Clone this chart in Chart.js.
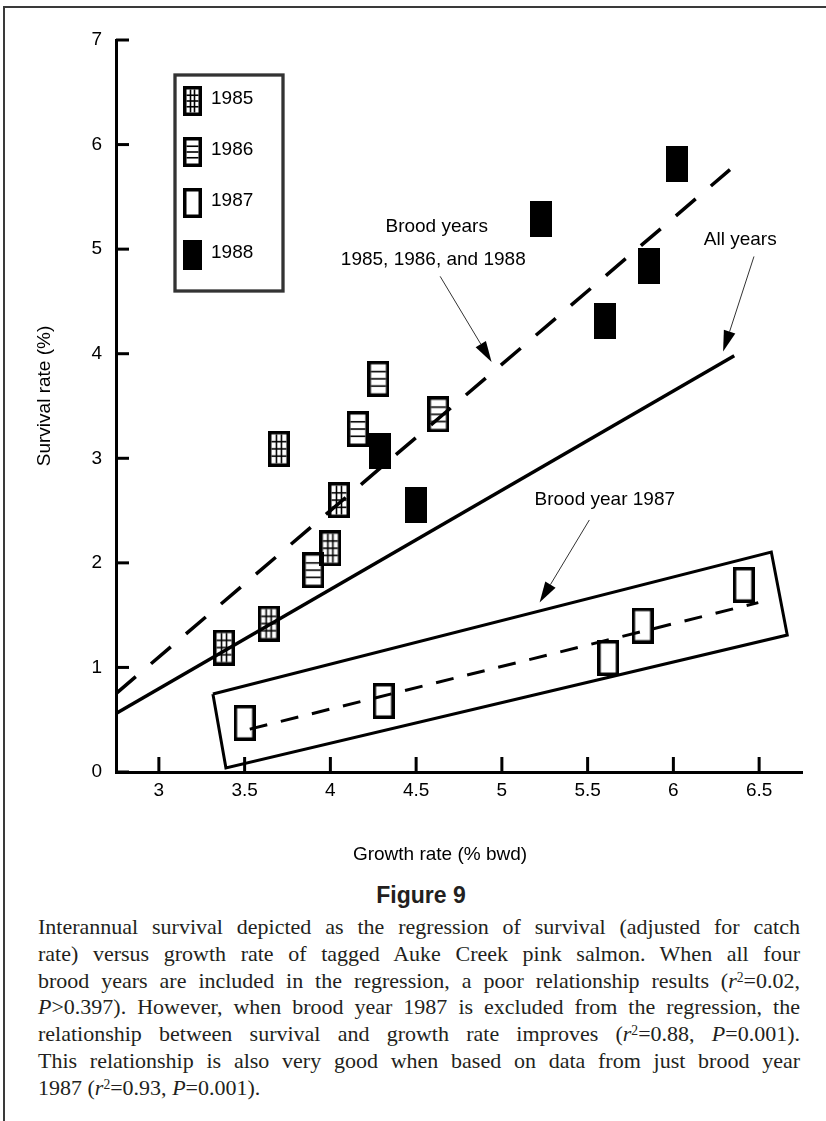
<!DOCTYPE html>
<html>
<head>
<meta charset="utf-8">
<script src="https://cdn.jsdelivr.net/npm/chart.js@4.4.1/dist/chart.umd.min.js"></script>
<style>
  html, body { margin: 0; padding: 0; background: #fff; }
  body { width: 826px; height: 1121px; position: relative; overflow: hidden; }
  #frameTop { position: absolute; left: 3px; top: 6px; width: 823px; height: 2px; background: #3a3a3a; }
  #frameLeft { position: absolute; left: 3px; top: 6px; width: 2px; height: 1115px; background: #3a3a3a; }
  #c { position: absolute; left: 0; top: 0; }
  #fig { position: absolute; left: 321px; width: 200px; top: 881px; text-align: center;
         font: bold 23px "Liberation Sans", Arial, sans-serif; line-height: 28px; color: #231f20; }
  #cap { position: absolute; left: 38px; top: 914px; width: 762px; color: #231f20;
         font: 22px "Liberation Serif", "Times New Roman", serif; line-height: 26.8px; }
  #cap div { text-align: justify; text-align-last: justify; }
  #cap div.last { text-align-last: left; }
  sup { font-size: 0.62em; line-height: 0; vertical-align: 0.45em; }
</style>
</head>
<body>
<div id="frameTop"></div>
<div id="frameLeft"></div>
<canvas id="c" width="826" height="880"></canvas>
<div id="fig">Figure 9</div>
<div id="cap">
  <div>Interannual survival depicted as the regression of survival (adjusted for catch</div>
  <div>rate) versus growth rate of tagged Auke Creek pink salmon. When all four</div>
  <div>brood years are included in the regression, a poor relationship results (<i>r</i><sup>2</sup>=0.02,</div>
  <div><i>P</i>&gt;0.397). However, when brood year 1987 is excluded from the regression, the</div>
  <div>relationship between survival and growth rate improves (<i>r</i><sup>2</sup>=0.88, <i>P</i>=0.001).</div>
  <div>This relationship is also very good when based on data from just brood year</div>
  <div class="last">1987 (<i>r</i><sup>2</sup>=0.93, <i>P</i>=0.001).</div>
</div>
<script>
// brood years
var years = ["1985", "1986", "1987", "1988"];

// growth rate (% bwd) / survival rate (%)
var growth1985 = [3.38, 3.64, 3.70, 4.05, 4.00];
var survival1985 = [1.19, 1.42, 3.09, 2.60, 2.14];
var growth1986 = [3.90, 4.16, 4.28, 4.63];
var survival1986 = [1.93, 3.28, 3.76, 3.42];
var growth1987 = [3.50, 4.31, 5.62, 5.82, 6.41];
var survival1987 = [0.47, 0.68, 1.09, 1.40, 1.79];
var growth1988 = [4.29, 4.50, 5.23, 5.60, 5.86, 6.02];
var survival1988 = [3.07, 2.55, 5.29, 4.31, 4.84, 5.81];

// regression lines (end points)
var fitBroodX = [2.75, 6.33], fitBroodY = [0.75, 5.76];
var fitAllX = [2.75, 6.355], fitAllY = [0.56, 3.98];
var fit1987X = [3.53, 6.495], fit1987Y = [0.41, 1.62];

// box drawn round the 1987 points
var boxX = [3.315, 6.571, 6.664, 3.391, 3.315];
var boxY = [0.746, 2.104, 1.310, 0.038, 0.746];

var xTicks = [3, 3.5, 4, 4.5, 5, 5.5, 6, 6.5];
var yTicks = [0, 1, 2, 3, 4, 5, 6, 7];

// text notes with arrows, in data units
var notes = [
  { text: "Brood years", x: 4.62, y: 5.21 },
  { text: "1985, 1986, and 1988", x: 4.60, y: 4.90 },
  { text: "All years", x: 6.39, y: 5.09 },
  { text: "Brood year 1987", x: 5.60, y: 2.60 }
];
var arrows = [
  [4.64, 4.74, 4.94, 3.92],
  [6.47, 4.93, 6.29, 4.02],
  [5.51, 2.41, 5.22, 1.62]
];

var SANS = '"Liberation Sans", Arial, sans-serif';

function makeMarker(kind, w, h) {
  var c = document.createElement("canvas");
  c.width = w;
  c.height = h;
  var g = c.getContext("2d");
  if (kind === "solid") {
    g.fillStyle = "#000";
    g.fillRect(0, 0, w, h);
    return c;
  }
  var b = 3.5;
  g.strokeStyle = "#000";
  g.lineWidth = b;
  g.strokeRect(b / 2, b / 2, w - b, h - b);
  g.lineWidth = 1.6;
  if (kind === "grid" || kind === "rows") {
    for (var i = 1; i < 4; i++) {
      var y = b + ((h - 2 * b) * i) / 4;
      g.beginPath(); g.moveTo(b, y); g.lineTo(w - b, y); g.stroke();
    }
  }
  if (kind === "grid") {
    for (var j = 1; j < 3; j++) {
      var x = b + ((w - 2 * b) * j) / 3;
      g.beginPath(); g.moveTo(x, b); g.lineTo(x, h - b); g.stroke();
    }
  }
  return c;
}

var kinds = ["grid", "rows", "open", "solid"];
var markers = kinds.map(function (k) { return makeMarker(k, 22, 36); });
var legendMarkers = kinds.map(function (k) { return makeMarker(k, 19, 30); });

function pts(xs, ys) {
  return xs.map(function (x, i) { return { x: x, y: ys[i] }; });
}

function lineSet(xs, ys, width, dash) {
  return { data: pts(xs, ys), showLine: true, borderColor: "#000", borderWidth: width,
           borderDash: dash, pointRadius: 0, tension: 0, borderJoinStyle: "miter", order: 2 };
}

function pointSet(i, xs, ys) {
  return { label: years[i], data: pts(xs, ys), pointStyle: markers[i], pointRadius: 11,
           pointHoverRadius: 11, order: 1 };
}

function drawArrow(ctx, x1, y1, x2, y2) {
  var a = Math.atan2(y2 - y1, x2 - x1), L = 21, W = 6;
  var bx = x2 - L * Math.cos(a), by = y2 - L * Math.sin(a);
  ctx.beginPath();
  ctx.moveTo(x1, y1);
  ctx.lineTo(bx, by);
  ctx.lineWidth = 1;
  ctx.strokeStyle = "#333";
  ctx.stroke();
  ctx.beginPath();
  ctx.moveTo(x2, y2);
  ctx.lineTo(bx - W * Math.sin(a), by + W * Math.cos(a));
  ctx.lineTo(bx + W * Math.sin(a), by - W * Math.cos(a));
  ctx.closePath();
  ctx.fillStyle = "#000";
  ctx.fill();
}

var extras = {
  id: "extras",
  afterDraw: function (chart) {
    var ctx = chart.ctx, xs = chart.scales.x, ys = chart.scales.y, area = chart.chartArea;
    ctx.save();

    // inward tick marks
    ctx.strokeStyle = "#000";
    ctx.lineWidth = 3;
    yTicks.forEach(function (v) {
      var py = ys.getPixelForValue(v);
      ctx.beginPath(); ctx.moveTo(area.left, py); ctx.lineTo(area.left + 13, py); ctx.stroke();
    });
    xTicks.forEach(function (v) {
      var px = xs.getPixelForValue(v);
      ctx.beginPath(); ctx.moveTo(px, area.bottom); ctx.lineTo(px, area.bottom - 15); ctx.stroke();
    });

    // axis titles
    ctx.fillStyle = "#000";
    ctx.font = "19px " + SANS;
    ctx.textAlign = "center";
    ctx.textBaseline = "middle";
    ctx.fillText("Growth rate (% bwd)", 440, 855);
    ctx.save();
    ctx.translate(45, 396);
    ctx.rotate(-Math.PI / 2);
    ctx.fillText("Survival rate (%)", 0, 0);
    ctx.restore();

    // notes and arrows
    notes.forEach(function (n) {
      ctx.fillText(n.text, xs.getPixelForValue(n.x), ys.getPixelForValue(n.y));
    });
    arrows.forEach(function (a) {
      drawArrow(ctx, xs.getPixelForValue(a[0]), ys.getPixelForValue(a[1]),
                xs.getPixelForValue(a[2]), ys.getPixelForValue(a[3]));
    });

    // legend box
    var lx = area.left + 59, ly = 75;
    ctx.lineWidth = 3.3;
    ctx.strokeRect(lx, ly, 108, 216);
    var rows = [101, 152, 203, 255];
    ctx.textAlign = "left";
    years.forEach(function (y, i) {
      var m = legendMarkers[i];
      ctx.drawImage(m, lx + 8, rows[i] - m.height / 2);
      ctx.fillText(y, lx + 36, rows[i] - 2);
    });
    ctx.restore();
  }
};

new Chart(document.getElementById("c"), {
  type: "scatter",
  data: {
    datasets: [
      lineSet(fitBroodX, fitBroodY, 3.5, [26, 20]),
      lineSet(fitAllX, fitAllY, 3.5, []),
      lineSet(fit1987X, fit1987Y, 3, [18, 14]),
      lineSet(boxX, boxY, 3, []),
      pointSet(0, growth1985, survival1985),
      pointSet(1, growth1986, survival1986),
      pointSet(2, growth1987, survival1987),
      pointSet(3, growth1988, survival1988)
    ]
  },
  options: {
    responsive: false,
    animation: false,
    events: [],
    layout: { padding: { left: 0, right: 24, top: 40, bottom: 68 } },
    plugins: { legend: { display: false }, tooltip: { enabled: false } },
    scales: {
      x: {
        type: "linear", min: 2.75, max: 6.75,
        afterBuildTicks: function (s) { s.ticks = xTicks.map(function (v) { return { value: v }; }); },
        afterFit: function (s) { s.height = 40; },
        grid: { display: false, drawTicks: false },
        border: { display: true, width: 3, color: "#000" },
        ticks: { color: "#000", padding: 7, font: { family: SANS, size: 19 },
                 callback: function (v) { return String(v); } }
      },
      y: {
        type: "linear", min: 0, max: 7,
        afterBuildTicks: function (s) { s.ticks = yTicks.map(function (v) { return { value: v }; }); },
        afterFit: function (s) { s.width = 116; },
        grid: { display: false, drawTicks: false },
        border: { display: true, width: 3, color: "#000" },
        ticks: { color: "#000", padding: 14, font: { family: SANS, size: 19 },
                 callback: function (v) { return String(v); } }
      }
    }
  },
  plugins: [extras]
});
</script>
</body>
</html>
